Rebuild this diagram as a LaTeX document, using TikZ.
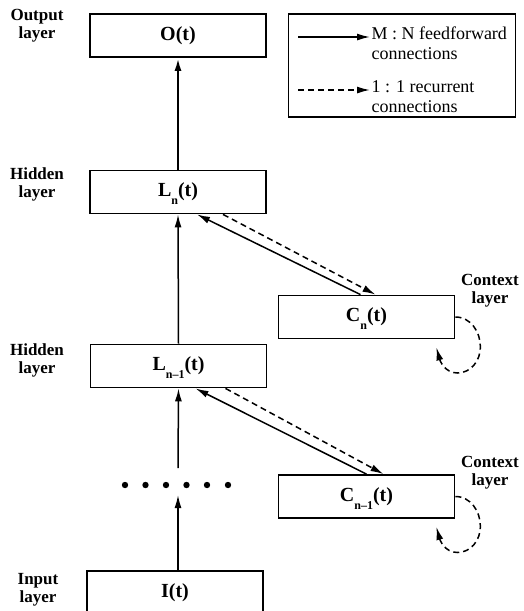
\documentclass[tikz,border=0pt]{standalone}
\usepackage{fontspec}
\setmainfont{Liberation Serif}
\usetikzlibrary{arrows.meta}

\newcommand{\lsub}[1]{\raisebox{-8pt}[0pt][0pt]{\fontsize{12}{12}\selectfont #1}}

\tikzset{
    layerbox/.style={draw, line width=1.8pt, minimum width=176pt, minimum height=43pt,
        font=\fontsize{20}{20}\selectfont\bfseries},
    layername/.style={align=center, font=\fontsize{17}{18}\selectfont\bfseries},
    legendtext/.style={anchor=west, align=left, font=\fontsize{18}{20}\selectfont},
    ff/.style={-{Latex[length=13pt,width=7pt]}, line width=1.5pt},
    rec/.style={ff, dash pattern=on 6pt off 4pt},
}

\begin{document}
\begin{tikzpicture}[x=1pt, y=-1pt]
    \useasboundingbox (0,0) rectangle (523,611);

    % --- Layers ---
    \node[layerbox] (out) at (178,35.5) {O(t)};
    \node[layerbox] (hn) at (178,192) {L\lsub{n}(t)};
    \node[layerbox] (hm) at (178.5,366) {L\lsub{n–1}(t)};
    \node[layerbox] (cn) at (366.5,317) {C\lsub{n}(t)};
    \node[layerbox] (cm) at (366.5,496.5) {C\lsub{n–1}(t)};
    \node[layerbox] (in) at (175,592.5) {I(t)};

    \node[layername] (outlbl) at (37,26) {Output\\layer};
    \node[layername] (hnlbl) at (37,184) {Hidden\\layer};
    \node[layername] (hmlbl) at (37,360) {Hidden\\layer};
    \node[layername] (cnlbl) at (490,291) {Context\\layer};
    \node[layername] (cmlbl) at (490,473) {Context\\layer};
    \node[layername] (inlbl) at (38,590) {Input\\layer};

    % Dots between input and hidden layers
    \coordinate (dotsup) at (178,468); \coordinate (dotsdn) at (178,495);
    \foreach \x in {125,145.5,166,186.5,207,228} \fill (\x,485) circle (3.2pt);

    % Feedforward connections
    \draw[ff, line width=2.3pt] (hn.north) -- (out.south);
    \draw[ff] (hm.north) -- (hn.south);
    \draw[ff] (dotsup) -- (hm.south);
    \draw[ff] ([xshift=3pt]in.north) -- (dotsdn);
    \draw[ff] ([xshift=-6pt]cn.north) -- ([xshift=19pt]hn.south);
    \draw[ff] (cm.north) -- ([xshift=17pt]hm.south);

    % Recurrent connections
    \draw[rec] ([xshift=45pt]hn.south) -- ([xshift=9pt]cn.north);
    \draw[rec] ([xshift=47pt]hm.south) -- ([xshift=17pt]cm.north);
    \draw[rec] (cn.east) to[out=0,in=90] ++(25,30) to[out=-90,in=0] ++(-23,26)
        to[out=180,in=-75] ([xshift=-19pt,yshift=-8pt]cn.south east);
    \draw[rec] (cm.east) to[out=0,in=90] ++(25,30) to[out=-90,in=0] ++(-23,26)
        to[out=180,in=-75] ([xshift=-19pt,yshift=-8pt]cm.south east);

    % --- Legend ---
    \node[draw, line width=1.3pt, minimum width=227pt, minimum height=103pt] (legend) at (402,65.5) {};
    \coordinate (ffa) at (298,37); \coordinate (ffb) at (370,37);
    \coordinate (rca) at (298,90); \coordinate (rcb) at (370,90);
    \draw[ff] (ffa) -- (ffb);
    \draw[rec] (rca) -- (rcb);
    \node[legendtext] (fftxt) at (368,43) {M : N feedforward\\connections};
    \node[legendtext] (rctxt) at (368,97) {1 : 1 recurrent\\connections};
\end{tikzpicture}
\end{document}
